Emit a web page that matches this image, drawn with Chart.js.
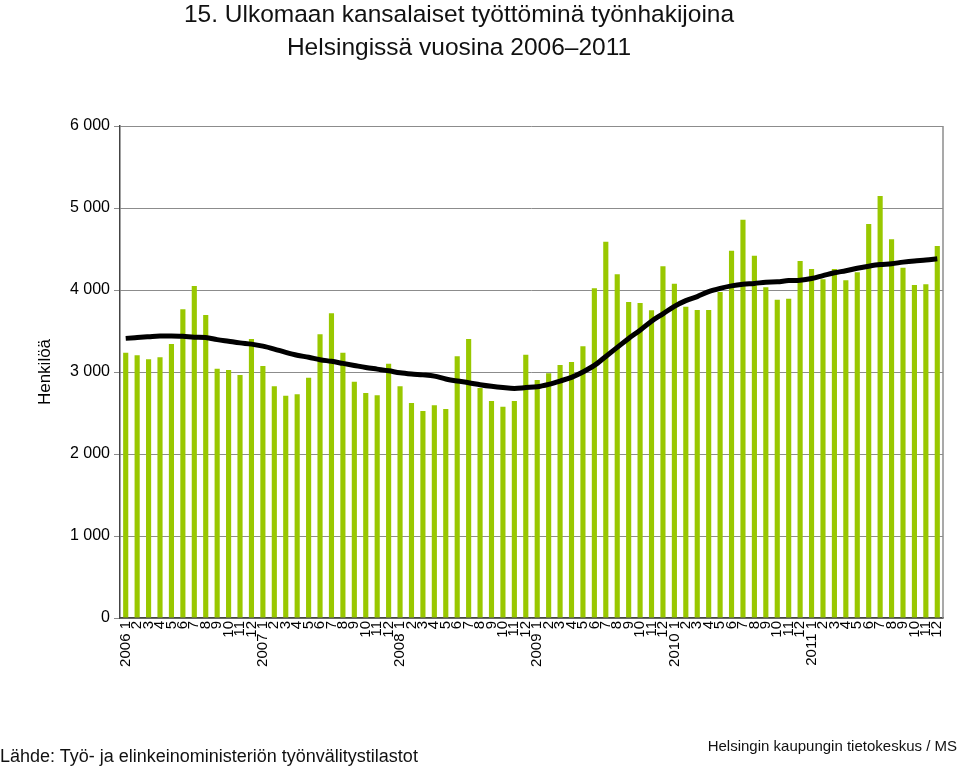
<!DOCTYPE html>
<html>
<head>
<meta charset="utf-8">
<script src="https://cdn.jsdelivr.net/npm/chart.js@4/dist/chart.umd.min.js"></script>
<style>
  body { margin: 0; background: #fff; font-family: "Liberation Sans", Arial, sans-serif; }
  #wrap { position: relative; width: 960px; height: 770px; }
  #otsikko { position: absolute; left: 0; top: -3px; width: 918px; text-align: center;
             font-size: 24.5px; line-height: 33px; color: #111; }
  #lahde { position: absolute; left: 0; top: 746px; font-size: 18px; color: #111; }
  #tekija { position: absolute; right: 3px; top: 737px; font-size: 15px; color: #111; }
</style>
</head>
<body>
<div id="wrap">
  <canvas id="kuvio" width="960" height="770"></canvas>
  <div id="otsikko">15. Ulkomaan kansalaiset työttöminä työnhakijoina<br>Helsingissä vuosina 2006–2011</div>
  <div id="lahde">Lähde: Työ- ja elinkeinoministeriön työnvälitystilastot</div>
  <div id="tekija">Helsingin kaupungin tietokeskus / MS</div>
</div>
<script>
// Vuodet ja kuukaudet x-akselille
var vuodet = ['2006', '2007', '2008', '2009', '2010', '2011'];
var kuukaudet = ['1', '2', '3', '4', '5', '6', '7', '8', '9', '10', '11', '12'];

// Työnhakijat kuukausittain
var hakijat = [
    3235, 3203, 3154, 3179, 3341, 3764, 4049, 3695, 3041, 3024, 2963, 3402,
    3073, 2825, 2711, 2728, 2931, 3459, 3716, 3236, 2882, 2744, 2715, 3102,
    2825, 2622, 2524, 2593, 2549, 3191, 3402, 2805, 2646, 2577, 2646, 3211,
    2902, 2984, 3085, 3122, 3313, 4020, 4589, 4191, 3854, 3841, 3752, 4289,
    4077, 3797, 3756, 3756, 3976, 4479, 4858, 4418, 4033, 3882, 3894, 4354,
    4256, 4130, 4256, 4118, 4216, 4805, 5146, 4618, 4272, 4061, 4069, 4537
];

// Trendi (liukuva keskiarvo)
var trendi = [
    3410, 3420, 3430, 3440, 3440, 3435, 3425, 3420, 3395, 3375, 3355, 3340,
    3315, 3280, 3240, 3205, 3180, 3150, 3130, 3105, 3080, 3055, 3035, 3015,
    2990, 2975, 2965, 2950, 2915, 2890, 2870, 2845, 2825, 2810, 2800, 2810,
    2820, 2850, 2890, 2935, 3000, 3080, 3190, 3300, 3410, 3510, 3620, 3710,
    3800, 3870, 3920, 3980, 4020, 4050, 4070, 4080, 4095, 4100, 4115, 4120,
    4140, 4175, 4210, 4235, 4265, 4290, 4310, 4320, 4340, 4355, 4365, 4380
];

var labels = [];
for (var v = 0; v < vuodet.length; v++) {
    for (var k = 0; k < kuukaudet.length; k++) {
        labels.push(k == 0 ? vuodet[v] + ' ' + kuukaudet[k] : kuukaudet[k]);
    }
}

// Oikean reunan kehys
var reunaPlugin = {
    id: 'reuna',
    afterDraw: function (chart) {
        var a = chart.chartArea;
        var ctx = chart.ctx;
        ctx.save();
        ctx.strokeStyle = '#8c8c8c';
        ctx.lineWidth = 1.5;
        ctx.beginPath();
        ctx.moveTo(a.right, a.top);
        ctx.lineTo(a.right, a.bottom);
        ctx.stroke();
        ctx.restore();
    }
};

function muotoile(arvo) {
    return String(arvo).replace(/\B(?=(\d{3})+(?!\d))/g, ' ');
}

var fontti = '"Liberation Sans", Arial, sans-serif';

new Chart(document.getElementById('kuvio').getContext('2d'), {
    type: 'bar',
    data: {
        labels: labels,
        datasets: [{
            type: 'line',
            data: trendi,
            borderColor: '#000',
            borderWidth: 5,
            pointRadius: 0,
            cubicInterpolationMode: 'monotone',
            fill: false,
            order: 0
        }, {
            data: hakijat,
            backgroundColor: '#99c800',
            barPercentage: 0.45,
            categoryPercentage: 1,
            order: 1
        }]
    },
    options: {
        responsive: false,
        animation: false,
        layout: { padding: { top: 126, right: 17, left: 0, bottom: 0 } },
        plugins: { legend: { display: false }, tooltip: { enabled: false } },
        scales: {
            x: {
                grid: { display: false, drawTicks: false },
                border: { color: '#444', width: 1.5 },
                ticks: {
                    autoSkip: false, maxRotation: 90, minRotation: 90, padding: 3,
                    color: '#000', font: { family: fontti, size: 15 }
                },
                afterFit: function (s) { s.height = 152; }
            },
            y: {
                min: 0, max: 6000,
                grid: { color: '#8c8c8c', lineWidth: 1, tickLength: 6 },
                border: { color: '#444', width: 1.5 },
                ticks: {
                    stepSize: 1000, padding: 4, color: '#000',
                    font: { family: fontti, size: 16 },
                    callback: function (arvo) { return muotoile(arvo); }
                },
                title: {
                    display: true, text: 'Henkilöä', color: '#000',
                    font: { family: fontti, size: 17 }, padding: { top: 35, bottom: 0 }
                },
                afterFit: function (s) { s.width = 120; }
            }
        }
    },
    plugins: [reunaPlugin]
});
</script>
</body>
</html>
